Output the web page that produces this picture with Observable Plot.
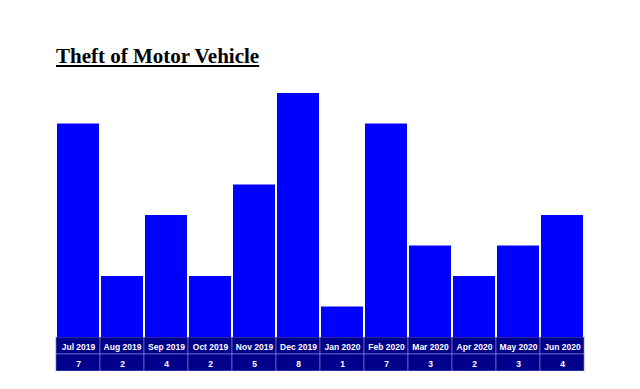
<!DOCTYPE html>
<html>
<head>
<meta charset="utf-8">
<script src="https://cdn.jsdelivr.net/npm/d3@7"></script>
<script src="https://cdn.jsdelivr.net/npm/@observablehq/plot@0.6"></script>
<style>
  html, body { margin: 0; padding: 0; background: #fff; }
  #wrap { position: relative; width: 640px; height: 389px; overflow: hidden; }
  #title { position: absolute; left: 56px; top: 46px; margin: 0;
    font-family: "Liberation Serif", "Times New Roman", serif; font-weight: bold;
    font-size: 21px; text-decoration: underline; color: #000; line-height: 1; white-space: nowrap; }
  #bars { position: absolute; left: 0; top: 0; }
  #table { position: absolute; left: 0; top: 337px; }
  svg { display: block; }
</style>
</head>
<body>
<div id="wrap">
  <div id="title">Theft of Motor Vehicle</div>
  <div id="bars"></div>
  <div id="table"></div>
</div>
<script>
const months = ["Jul 2019","Aug 2019","Sep 2019","Oct 2019","Nov 2019","Dec 2019","Jan 2020","Feb 2020","Mar 2020","Apr 2020","May 2020","Jun 2020"];
const counts = [7, 2, 4, 2, 5, 8, 1, 7, 3, 2, 3, 4];
const rows = ["month", "value"];

const data = months.map((m, i) => ({month: m, value: counts[i]}));
const headerCells = months.map(m => ({month: m, row: "month", label: m}));
const valueCells = data.map(d => ({month: d.month, row: "value", label: String(d.value)}));
const cells = headerCells.concat(valueCells);

const barsPlot = Plot.plot({
  width: 640, height: 337,
  marginLeft: 55, marginRight: 55, marginTop: 93, marginBottom: 0,
  x: {domain: months, paddingInner: 0.05, paddingOuter: 0.025, axis: null},
  y: {domain: [0, 8], axis: null},
  marks: [
    Plot.barY(data, {x: "month", y: "value", fill: "#0000ff"})
  ]
});
document.getElementById("bars").appendChild(barsPlot);

const tablePlot = Plot.plot({
  width: 640, height: 34,
  marginLeft: 55, marginRight: 55, marginTop: 0, marginBottom: 0,
  x: {domain: months, padding: 0, axis: null},
  y: {domain: rows, padding: 0, axis: null},
  style: {fontFamily: "'Liberation Sans', Arial, sans-serif"},
  marks: [
    Plot.cell(cells, {x: "month", y: "row", fill: "#00008b", stroke: "#7b7bc8", strokeWidth: 0.7}),
    Plot.text(headerCells, {x: "month", y: "row", text: "label", fill: "#fff", fontSize: 8.5, fontWeight: "bold", dy: 1.5}),
    Plot.text(valueCells, {x: "month", y: "row", text: "label", fill: "#fff", fontSize: 8.5, fontWeight: "bold", dy: 1})
  ]
});
document.getElementById("table").appendChild(tablePlot);
</script>
</body>
</html>
